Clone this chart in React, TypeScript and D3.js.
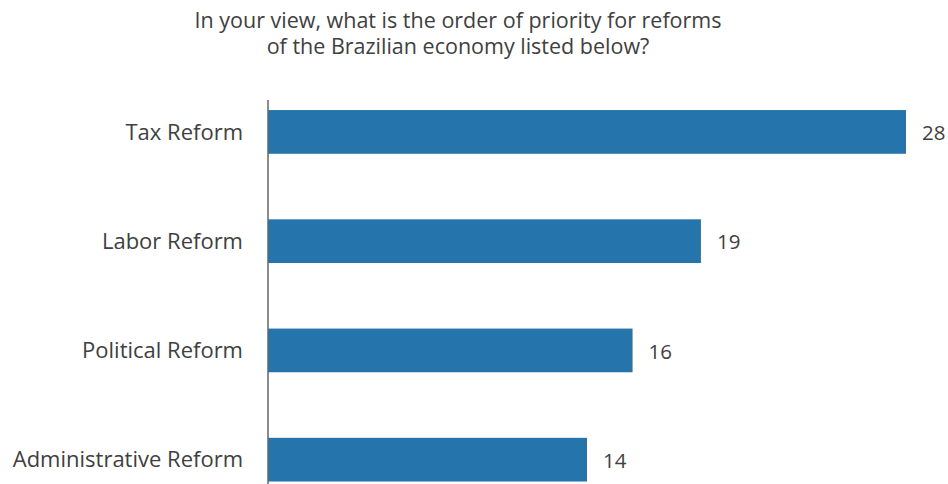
import React from "react";
import * as d3 from "d3";

const categories = ["Tax Reform", "Labor Reform", "Political Reform", "Administrative Reform"];
const values = [28, 19, 16, 14];
const titleLines = [
  "In your view, what is the order of priority for reforms",
  "of the Brazilian economy listed below?",
];

const W = 948;
const H = 484;
const FONT = "'Open Sans', 'Noto Sans', sans-serif";
const TEXT = "#404040";
const BAR = "#2574ab";

export default function App() {
  const x = d3.scaleLinear().domain([0, 28]).range([268, 906]);
  const y = d3
    .scaleBand<string>()
    .domain(categories)
    .range([77.3, 514.3])
    .paddingInner(0.6)
    .paddingOuter(0.3);

  return (
    <svg
      width={W}
      height={H}
      style={{ position: "absolute", left: 0, top: 0 }}
      fontFamily={FONT}
    >
      <rect width={W} height={H} fill="#fff" />
      {titleLines.map((t, i) => (
        <text
          key={i}
          x={458}
          y={28 + i * 26}
          textAnchor="middle"
          fontSize={21.5}
          fill={TEXT}
        >
          {t}
        </text>
      ))}
      {categories.map((c, i) => (
        <g key={c}>
          <rect
            x={x(0)}
            y={y(c)!}
            width={x(values[i]) - x(0)}
            height={y.bandwidth()}
            fill={BAR}
          />
          <text
            x={243}
            y={y(c)! + y.bandwidth() / 2}
            dy="0.35em"
            textAnchor="end"
            fontSize={22}
            fill={TEXT}
          >
            {c}
          </text>
          <text
            x={x(values[i]) + 16}
            y={y(c)! + y.bandwidth() / 2 + 1}
            dy="0.35em"
            textAnchor="start"
            fontSize={20.5}
            fill={TEXT}
          >
            {values[i]}
          </text>
        </g>
      ))}
      <line x1={268} x2={268} y1={100} y2={H} stroke="#666" strokeWidth={1.5} />
    </svg>
  );
}
